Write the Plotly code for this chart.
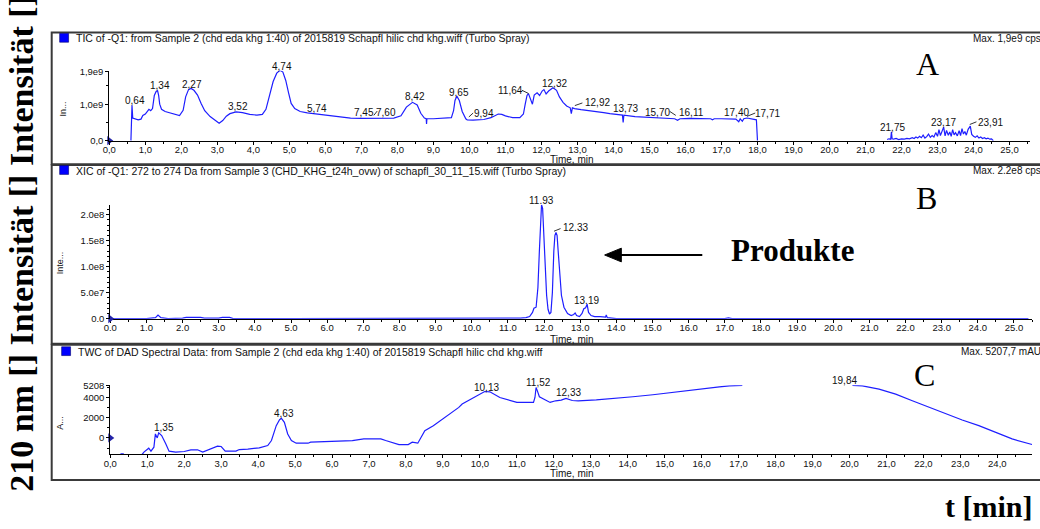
import plotly.graph_objects as go

W, H = 1040, 529


def px(x):
    return x / W


def py(y):
    return 1 - y / H


# ---------------- data ----------------
# Panel A: TIC (values in 1e9 cps)
tic_t = [0.60, 0.61, 0.62, 0.63, 0.65, 0.70, 0.80, 0.88, 0.93, 1.00, 1.05, 1.10, 1.15, 1.20, 1.25, 1.30,
         1.34, 1.37, 1.40, 1.45, 1.55, 1.70, 1.85, 1.95, 2.05, 2.12, 2.20, 2.27, 2.35, 2.45, 2.55, 2.65,
         2.80, 2.95, 3.05, 3.15, 3.25, 3.35, 3.52, 3.70, 3.90, 4.10, 4.25, 4.35, 4.45, 4.55, 4.65, 4.74,
         4.82, 4.90, 4.98, 5.05, 5.15, 5.30, 5.50, 5.74, 6.00, 6.30, 6.70, 7.00, 7.45, 7.60, 7.90, 8.10,
         8.25, 8.42, 8.55, 8.65, 8.75, 8.80, 8.81, 8.82, 9.00, 9.30, 9.50, 9.56, 9.60, 9.65, 9.72, 9.80,
         9.90, 9.94, 10.10, 10.40, 10.60, 10.80, 10.90, 11.00, 11.20, 11.40, 11.50, 11.55, 11.60, 11.64,
         11.70, 11.75, 11.80, 11.88, 11.95, 12.02, 12.07, 12.13, 12.20, 12.32, 12.42, 12.50, 12.60, 12.70,
         12.80, 12.83, 12.86, 12.92, 13.10, 13.30, 13.50, 13.73, 13.90, 14.10, 14.25, 14.27, 14.29, 14.60,
         14.90, 15.20, 15.50, 15.70, 15.78, 15.85, 16.11, 16.40, 16.70, 16.75, 16.80, 17.00, 17.20, 17.40,
         17.48, 17.52, 17.58, 17.62, 17.71, 17.85, 17.97, 18.00, None,
         21.60, 21.65, 21.70, 21.72, 21.74, 21.78, 21.85, 21.92, 22.00, 22.08, 22.15, 22.22, 22.30, 22.35,
         22.40, 22.45, 22.50, 22.55, 22.60, 22.65, 22.70, 22.75, 22.80, 22.85, 22.90, 22.95, 23.00, 23.04,
         23.08, 23.12, 23.17, 23.21, 23.25, 23.30, 23.34, 23.38, 23.42, 23.46, 23.50, 23.55, 23.60, 23.64,
         23.68, 23.72, 23.76, 23.80, 23.85, 23.91, 23.95, 24.00, 24.05, 24.10, 24.15, 24.20, 24.25, 24.30,
         24.35, 24.40, 24.45, 24.50, 24.55]
tic_v = [0.00, 0.95, 0.35, 0.97, 0.62, 0.60, 0.57, 0.59, 0.69, 0.73, 0.79, 0.86, 0.82, 0.88, 1.24, 1.35,
         1.37, 1.24, 1.00, 0.86, 0.80, 0.76, 0.72, 0.69, 0.83, 1.20, 1.40, 1.43, 1.38, 1.25, 1.02, 0.82,
         0.66, 0.54, 0.48, 0.55, 0.67, 0.74, 0.79, 0.77, 0.72, 0.70, 0.72, 0.86, 1.25, 1.62, 1.85, 1.93,
         1.88, 1.65, 1.30, 1.02, 0.88, 0.80, 0.76, 0.73, 0.69, 0.66, 0.62, 0.61, 0.61, 0.63, 0.62, 0.68,
         0.92, 1.05, 0.98, 0.75, 0.62, 0.60, 0.46, 0.60, 0.60, 0.62, 0.63, 0.82, 1.10, 1.22, 1.10, 0.80,
         0.60, 0.57, 0.56, 0.58, 0.63, 0.73, 0.72, 0.68, 0.63, 0.63, 0.73, 1.00, 1.24, 1.29,
         1.10, 1.00, 1.25, 1.31, 1.24, 1.36, 1.40, 1.28, 1.36, 1.45, 1.38, 1.20, 1.05, 0.95,
         0.90, 0.74, 0.90, 0.88, 0.85, 0.83, 0.80, 0.77, 0.74, 0.71, 0.70, 0.50, 0.70, 0.66,
         0.64, 0.62, 0.61, 0.60, 0.56, 0.60, 0.61, 0.60, 0.60, 0.57, 0.60, 0.60, 0.59, 0.59,
         0.52, 0.60, 0.53, 0.60, 0.62, 0.59, 0.57, 0.00, None,
         0.03, 0.05, 0.04, 0.24, 0.05, 0.04, 0.06, 0.03, 0.05, 0.04, 0.06, 0.05, 0.08, 0.06,
         0.10, 0.07, 0.12, 0.08, 0.15, 0.07, 0.11, 0.18, 0.09, 0.14, 0.10, 0.22, 0.12, 0.30,
         0.14, 0.26, 0.37, 0.13, 0.28, 0.15, 0.24, 0.12, 0.30, 0.16, 0.22, 0.13, 0.27, 0.14,
         0.33, 0.18, 0.25, 0.15, 0.31, 0.40, 0.17, 0.12, 0.09, 0.13, 0.07, 0.10, 0.06, 0.08,
         0.05, 0.07, 0.04, 0.05, 0.00]

# Panel B: XIC 272-274 Da (values in 1e8 cps)
xic_t = [0.0, 1.0, 1.25, 1.32, 1.4, 1.6, 2.0, 2.1, 2.5, 2.6, 3.0, 3.1, 3.3, 3.4, 5.0, 8.0, 11.0, 11.35,
         11.5, 11.6, 11.68, 11.72, 11.78, 11.83, 11.87, 11.9, 11.93, 11.96, 11.99, 12.03, 12.07, 12.11,
         12.15, 12.19, 12.23, 12.27, 12.3, 12.33, 12.36, 12.39, 12.43, 12.48, 12.55, 12.65, 12.75, 12.82,
         12.86, 12.9, 12.98, 13.05, 13.1, 13.15, 13.19, 13.23, 13.3, 13.4, 13.55, 13.7, 13.72, 13.75, 14.0,
         17.0, 17.1, 17.2, 20.0, 25.4]
xic_v = [0.0, 0.0, 0.02, 0.07, 0.02, 0.0, 0.01, 0.025, 0.025, 0.01, 0.01, 0.025, 0.025, 0.0, 0.0, 0.0,
         0.0, 0.01, 0.02, 0.04, 0.12, 0.2, 0.22, 0.6, 1.3, 1.9, 2.19, 2.12, 1.7, 1.0, 0.45, 0.18,
         0.09, 0.12, 0.5, 1.3, 1.6, 1.66, 1.6, 1.3, 0.85, 0.45, 0.22, 0.1, 0.06, 0.08,
         0.11, 0.06, 0.04, 0.1, 0.19, 0.21, 0.28, 0.12, 0.06, 0.04, 0.04, 0.03, 0.07, 0.02, 0.0,
         0.0, 0.015, 0.0, 0.0, 0.0]

# Panel C: DAD TWC (mAU)
dad_t = [0.00, 0.26, 0.29, 0.35, 0.38, 0.86, 0.91, 1.04, 1.10, 1.18, 1.22, 1.27, 1.31, 1.36, 1.39,
         1.50, 1.59, 1.77, 2.00, 2.18, 2.36, 2.50, 2.67, 2.90, 3.00, 3.11, 3.40, 3.49, 3.72, 4.03,
         4.26, 4.36, 4.49, 4.58, 4.63, 4.71, 4.80, 4.90, 5.03, 5.35, 5.42, 5.95, 6.55, 6.86, 7.32,
         7.45, 7.81, 8.06, 8.17, 8.32, 8.40, 8.51, 8.74, 9.43, 9.52, 10.13, 10.27, 10.54, 11.00,
         11.45, 11.49, 11.52, 11.56, 11.61, 11.90, 12.05, 12.20, 12.33, 12.50, 12.66, 13.15, 13.69,
         14.14, 14.68, 15.50, 15.93, 16.48, 16.75, 17.10, None,
         20.08, 20.35, 20.80, 21.25, 21.70, 22.15, 22.60, 23.05, 23.50, 23.96, 24.40, 24.94]
dad_v = [-1800, -1800, -1570, -1570, -1800, -1640, -1410, -1017, -1312, -918, 394, 0, 492, 380, 230,
         -590, -1312, -1410, -1345, -1180, -1180, -1410, -1180, -820, -850, -1312, -1312, -1150, -1115, -985,
         -755, -260, 1210, 1800, 1935, 1540, 390, -262, -525, -525, -425, -330, -262, -100, -100,
         -262, -656, -656, -426, -525, 66, 720, 1210, 3018, 3345, 4590, 4560, 4000, 3510,
         3510, 4000, 4985, 4600, 4067, 3510, 3670, 3740, 3900, 3700, 3670, 3770, 3900,
         4067, 4265, 4650, 4820, 5050, 5150, 5205, None,
         5205, 5150, 4820, 4330, 3670, 3020, 2360, 1770, 1215, 560, -100, -656]

# peak retention times (labels)
peaks_A = [0.64, 1.34, 2.27, 3.52, 4.74, 5.74, 7.45, 7.60, 8.42, 9.65, 9.94, 11.64, 12.32, 12.92,
           13.73, 15.70, 16.11, 17.40, 17.71, 21.75, 23.17, 23.91]
peaks_B = [11.93, 12.33, 13.19]
peaks_C = [1.35, 4.63, 10.13, 11.52, 12.33, 19.84]

# axis ticks
xticks_A = ["0,0", "1,0", "2,0", "3,0", "4,0", "5,0", "6,0", "7,0", "8,0", "9,0", "10,0", "11,0", "12,0",
            "13,0", "14,0", "15,0", "16,0", "17,0", "18,0", "19,0", "20,0", "21,0", "22,0", "23,0",
            "24,0", "25,0"]
xticks_B = ["0.0", "1.0", "2.0", "3.0", "4.0", "5.0", "6.0", "7.0", "8.0", "9.0", "10.0", "11.0", "12.0",
            "13.0", "14.0", "15.0", "16.0", "17.0", "18.0", "19.0", "20.0", "21.0", "22.0", "23.0",
            "24.0", "25.0"]
xticks_C = ["0,0", "1,0", "2,0", "3,0", "4,0", "5,0", "6,0", "7,0", "8,0", "9,0", "10,0", "11,0", "12,0",
            "13,0", "14,0", "15,0", "16,0", "17,0", "18,0", "19,0", "20,0", "21,0", "22,0", "23,0",
            "24,0"]
yvals_A = [0, 1.0, 1.9]
yticks_A = ["0,0", "1,0e9", "1,9e9"]
yvals_B = [0, 0.5, 1.0, 1.5, 2.0]
yticks_B = ["0.0", "5.0e7", "1.0e8", "1.5e8", "2.0e8"]
yvals_C = [0, 2000, 4000, 5208]
yticks_C = ["0", "2000", "4000", "5208"]

# ---------------- styling ----------------
BLUE = "#1e1eff"
SANS = "Liberation Sans, Arial, sans-serif"
SERIF = "Liberation Serif, Times New Roman, serif"

fig = go.Figure()
fig.add_trace(go.Scatter(x=tic_t, y=tic_v, mode="lines", line=dict(color=BLUE, width=1.2),
                         xaxis="x", yaxis="y", connectgaps=False, hoverinfo="skip"))
fig.add_trace(go.Scatter(x=xic_t, y=xic_v, mode="lines", line=dict(color=BLUE, width=1.2),
                         xaxis="x2", yaxis="y2", hoverinfo="skip"))
fig.add_trace(go.Scatter(x=dad_t, y=dad_v, mode="lines", line=dict(color=BLUE, width=1.2),
                         xaxis="x3", yaxis="y3", connectgaps=False, hoverinfo="skip"))
for xa, ya in (("x", "y"), ("x2", "y2"), ("x3", "y3")):
    fig.add_trace(go.Scatter(x=[0], y=[0], mode="markers", cliponaxis=False, hoverinfo="skip",
                             marker=dict(symbol="triangle-right", size=8, color="#2424a8"),
                             xaxis=xa, yaxis=ya))


def xax(dom, rng, anchor, ticks, layer="above traces"):
    return dict(domain=[px(dom[0]), px(dom[1])], range=rng, anchor=anchor,
                tickvals=list(range(len(ticks))), ticktext=ticks, showline=True, linecolor="black",
                linewidth=1, ticks="outside", ticklen=3, tickcolor="black", showgrid=False,
                zeroline=False, tickfont=dict(family=SANS, size=9.5, color="#111"),
                ticklabelstandoff=-3,
                minor=dict(dtick=0.5, tick0=0, ticks="outside", ticklen=2, tickcolor="black",
                           showgrid=False), layer=layer, fixedrange=True)


def yax(dom, rng, anchor, vals, ticks, minor_dtick):
    return dict(domain=[py(dom[1]), py(dom[0])], range=rng, anchor=anchor, tickvals=vals,
                ticktext=ticks, showline=True, linecolor="black", linewidth=1, ticks="outside",
                ticklen=3, tickcolor="black", showgrid=False, zeroline=False,
                tickfont=dict(family=SANS, size=9.5, color="#111"),
                minor=dict(dtick=minor_dtick, ticks="outside", ticklen=2, tickcolor="black",
                           showgrid=False), fixedrange=True)


fig.update_layout(
    width=W, height=H, margin=dict(l=0, r=0, t=0, b=0), showlegend=False,
    paper_bgcolor="white", plot_bgcolor="rgba(0,0,0,0)",
    xaxis=xax((103, 1030), [0, 25.57], "y", xticks_A),
    yaxis=yax((66, 137.5), [0, 1.92], "x", yvals_A, yticks_A, 0.5),
    xaxis2=xax((104, 1032), [0, 25.5], "y2", xticks_B, layer="below traces"),
    yaxis2=yax((203, 319.3), [0, 2.19], "x2", yvals_B, yticks_B, 0.1),
    xaxis3=xax((104, 1032), [0, 24.94], "y3", xticks_C),
    yaxis3=yax((387.3, 458), [-1640, 5208], "x3", yvals_C, yticks_C, 1000),
)

shapes = []
# panel frames
for top, bot in ((27, 161.5), (162.5, 345), (346, 484)):
    shapes.append(dict(type="rect", xref="paper", yref="paper", x0=px(45), x1=px(1046),
                       y0=py(bot), y1=py(top), line=dict(color="#3a3a3a", width=2)))
# blue squares by titles
for x0, y0 in ((53, 28), (53, 163), (55, 348)):
    shapes.append(dict(type="rect", xref="paper", yref="paper", x0=px(x0), x1=px(x0 + 9),
                       y0=py(y0 + 9), y1=py(y0), fillcolor="#0000ff",
                       line=dict(color="#000070", width=0.6)))
# peak label leaders
for (x0, y0, x1, y1) in ((369.3, 111.7, 372.7, 107.3), (465, 113.3, 469.3, 109.3),
                         (518.3, 86, 525, 89.3), (571.7, 101.7, 579.3, 99),
                         (667.3, 107.7, 673.3, 111.7), (745, 112.7, 753.3, 109.3),
                         (969.3, 121, 976, 118.3), (550.7, 230, 557.3, 227.3)):
    shapes.append(dict(type="line", xref="paper", yref="paper", x0=px(x0), y0=py(y0),
                       x1=px(x1), y1=py(y1), line=dict(color="black", width=0.8)))
# arrow toward the products
shapes.append(dict(type="line", xref="paper", yref="paper", x0=px(615), x1=px(700),
                   y0=py(254.3), y1=py(254.3), line=dict(color="black", width=2)))
shapes.append(dict(type="path", xref="paper", yref="paper",
                   path=f"M {px(601.7)},{py(254.3)} L {px(618.5)},{py(247.3)} L {px(618.5)},{py(261.3)} Z",
                   fillcolor="black", line=dict(color="black", width=1)))
fig.update_layout(shapes=shapes)


def ann(text, x, y, size, family=SANS, xanchor="center", yanchor="middle", angle=0, color="#111"):
    fig.add_annotation(text=text, x=px(x), y=py(y), xref="paper", yref="paper", showarrow=False,
                       xanchor=xanchor, yanchor=yanchor, textangle=angle,
                       font=dict(family=family, size=size, color=color))


# titles
ann("TIC of -Q1: from Sample 2 (chd eda khg 1:40) of 2015819 Schapfl hilic chd khg.wiff (Turbo Spray)",
    67, 33, 10.5, xanchor="left")
ann("XIC of -Q1: 272 to 274 Da from Sample 3 (CHD_KHG_t24h_ovw) of schapfl_30_11_15.wiff (Turbo Spray)",
    67, 168.5, 10.5, xanchor="left")
ann("TWC of DAD Spectral Data: from Sample 2 (chd eda khg 1:40) of 2015819 Schapfl hilic chd khg.wiff",
    69, 353, 10.5, xanchor="left")
ann("Max. 1,9e9 cps", 1043, 33, 10, xanchor="right")
ann("Max. 2.2e8 cps", 1043, 168.5, 10, xanchor="right")
ann("Max. 5207,7 mAU", 1043, 353, 10, xanchor="right")

# axis titles
for cy in (157, 340.5, 477.5):
    ann("Time, min", 569, cy, 10)
ann("In...", 56, 105, 9, angle=-90)
ann("Inte...", 53, 262, 9, angle=-90)
ann("A...", 54, 426, 9, angle=-90)

# peak labels
pos_A = [(129, 96.5), (154, 81.5), (186.5, 80), (232.5, 102.5), (277, 61.5), (312.5, 105), (359, 109),
         (382, 109), (410.5, 92.5), (455, 88.5), (480, 110), (507, 86), (551.5, 79.5), (594, 98.5),
         (623, 105), (655, 109), (689, 109), (734, 109), (766, 110), (892, 124), (943, 119), (990, 119)]
pos_B = [(538, 198.5), (572, 226), (583.5, 301)]
pos_C = [(158, 430), (279, 416), (483, 390), (535, 385), (565, 395), (843, 382.5)]
for t, (x, y) in zip(peaks_A, pos_A):
    ann(f"{t:.2f}".replace(".", ","), x, y, 10)
for t, (x, y) in zip(peaks_B, pos_B):
    ann(f"{t:.2f}", x, y, 10)
for t, (x, y) in zip(peaks_C, pos_C):
    ann(f"{t:.2f}".replace(".", ","), x, y, 10)

# big letters
ann("A", 927, 59, 32, family=SERIF, color="black")
ann("B", 926, 196, 32, family=SERIF, color="black")
ann("C", 924, 377, 32, family=SERIF, color="black")
ann("<b>Produkte</b>", 791, 249.5, 31, family=SERIF, color="black")
ann("<b>t [min]</b>", 988, 511, 30, family=SERIF, color="black")
ann("<b>210 nm [] Intensität [] Intensität []</b>", 15, 242, 34, family=SERIF, angle=-90,
    color="black")

fig.write_html("out.html", config={"displayModeBar": False},
               post_script="document.body.style.margin='0px';document.body.style.overflow='hidden';")
